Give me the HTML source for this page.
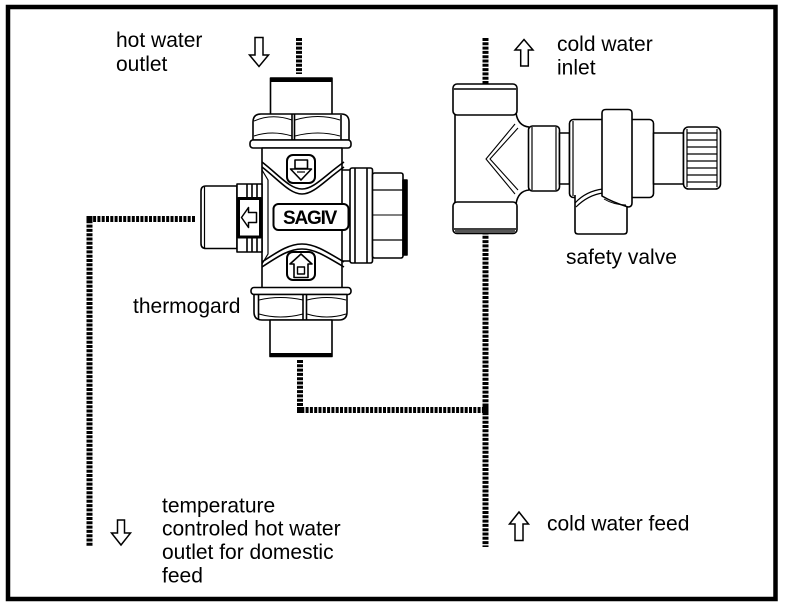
<!DOCTYPE html>
<html><head><meta charset="utf-8"><style>
html,body{margin:0;padding:0;background:#fff;}
svg{display:block;}
text{font-family:"Liberation Sans",Arial,sans-serif;font-size:21px;fill:#000;}
</style></head><body>
<svg width="785" height="608" viewBox="0 0 785 608" xmlns="http://www.w3.org/2000/svg">
<rect x="0" y="0" width="785" height="608" fill="#fff"/>
<!-- frame -->
<rect x="8" y="7" width="767.5" height="592" fill="none" stroke="#000" stroke-width="4.5"/>

<!-- dotted pipes -->
<g stroke="#000" stroke-width="6" fill="none" stroke-dasharray="3 1.3">
  <line x1="299" y1="38" x2="299" y2="74"/>
  <line x1="300" y1="360" x2="300" y2="410"/>
  <line x1="297" y1="410" x2="486" y2="410"/>
  <line x1="485.5" y1="38" x2="485.5" y2="547"/>
  <line x1="195" y1="219" x2="89.5" y2="219"/>
  <line x1="89.5" y1="216" x2="89.5" y2="547"/>
</g>
<rect x="86.5" y="216" width="6" height="6" fill="#000"/>
<rect x="297" y="407" width="6" height="6" fill="#000"/>
<rect x="482.5" y="406" width="6" height="8" fill="#000"/>

<!-- arrows -->
<g fill="#fff" stroke="#000" stroke-width="1.5" stroke-linejoin="miter">
  <path d="M255,37.5 H263 V55 H268.5 L259,66.5 L249.5,55 H255 Z"/>
  <path d="M524,39.5 L533,50 H528.3 V66 H520.7 V50 H515 Z"/>
  <path d="M117.5,520 H124.5 V533 H130.5 L121,545 L111.5,533 H117.5 Z"/>
  <path d="M519,512 L528.5,524 H523 V540.5 H515 V524 H509.5 Z"/>
</g>

<!-- THERMOGARD VALVE -->
<g stroke="#000" stroke-width="1.6" fill="#fff" stroke-linejoin="round">
  <!-- top cap -->
  <rect x="270.5" y="78" width="61.5" height="37"/>
  <rect x="271" y="77.5" width="60.5" height="4.5" fill="#000" stroke="none"/>
  <!-- upper hex nut -->
  <path d="M253,140 V122 Q253,114 261,114 H341 Q349,114 349,122 V140 Z"/>
  <line x1="292" y1="114" x2="292" y2="140"/>
  <line x1="294.5" y1="114" x2="294.5" y2="140"/>
  <line x1="341" y1="115" x2="341" y2="140"/>
  <path d="M254,121 Q272,113 292,120" fill="none" stroke-width="1"/>
  <path d="M295,120 Q318,113 340,120" fill="none" stroke-width="1"/>
  <path d="M254,136 Q272,130 292,136" fill="none" stroke-width="1"/>
  <path d="M295,136 Q318,130 340,136" fill="none" stroke-width="1"/>
  <!-- upper flange -->
  <rect x="250" y="140" width="101" height="8" rx="3"/>

  <!-- right connection -->
  <rect x="340" y="170" width="11" height="91"/>
  <rect x="350" y="168" width="22.5" height="95" rx="2"/>
  <line x1="355" y1="168" x2="355" y2="263"/>
  <line x1="367" y1="168" x2="367" y2="263"/>
  <rect x="372.5" y="173" width="30.5" height="85" rx="2"/>
  <line x1="373" y1="190" x2="403" y2="190" stroke-width="1.2"/>
  <line x1="373" y1="215" x2="403" y2="215" stroke-width="1"/>
  <line x1="373" y1="240" x2="403" y2="240" stroke-width="1.2"/>
  <rect x="403" y="180" width="4" height="75" fill="#000"/>

  <!-- body -->
  <rect x="262" y="148" width="80" height="140"/>
  <path d="M262,170 L268,180 V254 L262,264" fill="none" stroke-width="1.2"/>
  <!-- upper saddle -->
  <path d="M262,162 C280,176 290,189 302,189 C314,189 324,176 344,162" fill="none"/>
  <path d="M262,167 C280,181 290,194 302,194 C314,194 324,181 344,167" fill="none"/>
  <!-- lower saddle -->
  <path d="M262,262 C280,250 290,244 302,244 C314,244 324,250 344,262" fill="none"/>
  <path d="M262,267 C280,255 290,249 302,249 C314,249 324,255 344,267" fill="none"/>

  <!-- upper icon -->
  <rect x="287" y="155" width="28" height="28" rx="6" stroke-width="2"/>
  <rect x="295" y="160" width="12.5" height="8.5" stroke-width="1.6"/>
  <path d="M290.5,169 H311.5 L301,180 Z" stroke-width="1.6"/>
  <line x1="297" y1="172" x2="305" y2="172" stroke-width="1.2"/>
  <!-- lower icon -->
  <rect x="287" y="252" width="28" height="28" rx="6" stroke-width="2"/>
  <path d="M301,254 L312,264 H308 V277.5 H294 V264 H290 Z" stroke-width="1.6"/>
  <rect x="297.5" y="267" width="7" height="7" stroke-width="1.4"/>

  <!-- SAGIV plate -->
  <rect x="273.5" y="204" width="75" height="26" rx="5" stroke-width="2"/>

  <!-- left thermostat element -->
  <path d="M237,186 H206 Q201,186 201,191 V243.5 Q201,248.5 206,248.5 H237 Z"/>
  <line x1="204.5" y1="187" x2="204.5" y2="247.5" stroke-width="1.2"/>
  <rect x="237" y="184" width="25" height="68"/>
  <line x1="247" y1="184" x2="247" y2="197"/>
  <line x1="252" y1="184" x2="252" y2="197"/>
  <line x1="257" y1="184" x2="257" y2="197"/>
  <line x1="247" y1="238" x2="247" y2="252"/>
  <line x1="252" y1="238" x2="252" y2="252"/>
  <line x1="257" y1="238" x2="257" y2="252"/>
  <rect x="238.5" y="198.5" width="22" height="38.5" stroke-width="3"/>
  <path d="M241.5,217.5 L248.5,207.5 V212.5 H256.5 V222.5 H248.5 V227.5 Z" stroke-width="1.5"/>

  <!-- lower flange -->
  <rect x="251" y="287.5" width="100" height="7" rx="3"/>
  <!-- lower hex nut -->
  <path d="M254,294.5 V312 Q254,320 262,320 H339 Q347,320 347,312 V294.5 Z"/>
  <line x1="258.5" y1="295" x2="258.5" y2="319"/>
  <line x1="303" y1="295" x2="303" y2="320"/>
  <line x1="306.5" y1="295" x2="306.5" y2="320"/>
  <path d="M259,300 Q280,295 303,300" fill="none" stroke-width="1"/>
  <path d="M307,300 Q327,295 346,300" fill="none" stroke-width="1"/>
  <path d="M259,314 Q280,320 303,314" fill="none" stroke-width="1"/>
  <path d="M307,314 Q327,320 346,314" fill="none" stroke-width="1"/>
  <!-- lower cap -->
  <rect x="270" y="320" width="62" height="36.5"/>
  <rect x="270" y="353" width="62" height="4" fill="#000" stroke="none"/>
</g>
<text x="283" y="224" style="font-weight:bold;font-size:19px;letter-spacing:-1.2px">SAGIV</text>

<!-- SAFETY VALVE -->
<g stroke="#000" stroke-width="1.6" fill="#fff" stroke-linejoin="round">
  <!-- T body -->
  <path d="M455,113 H516 Q518,126 529,127 V190 Q518,191 516,204 H455 Z"/>
  <path d="M515,124 L486,159 L515,194" fill="none" stroke-width="1.1"/>
  <path d="M518,128 L490,159 L518,190" fill="none" stroke-width="1.1"/>
  <!-- top cap -->
  <rect x="453" y="84" width="64" height="31" rx="4"/>
  <line x1="454" y1="89" x2="516" y2="89" stroke-width="1.4"/>
  <!-- bottom cap -->
  <rect x="453" y="202" width="64" height="31.5" rx="4"/>
  <line x1="454" y1="229" x2="516" y2="229" stroke-width="1.4"/>
  <rect x="455" y="230" width="60" height="3" fill="#555" stroke="none"/>
  <!-- nut 1 -->
  <rect x="528.5" y="126" width="31" height="65" rx="4"/>
  <line x1="532" y1="127" x2="532" y2="190" stroke-width="1.2"/>
  <line x1="556" y1="127" x2="556" y2="190" stroke-width="1.2"/>
  <!-- neck -->
  <rect x="559.5" y="133" width="10" height="51"/>
  <!-- body 2 -->
  <rect x="569.5" y="119.5" width="84" height="78" rx="4"/>
  <line x1="573" y1="121" x2="573" y2="196" stroke-width="1.2"/>
  <!-- lower outlet -->
  <path d="M575,195 V231 Q575,234 578,234 H624 Q627,234 627,231 V195"/>
  <rect x="576" y="194" width="50" height="5" fill="#fff" stroke="none"/>
  <path d="M575,203 Q586,191 603,189" fill="none" stroke-width="1.2"/>
  <path d="M576,207 Q588,195 603,193" fill="none" stroke-width="1.2"/>
  <!-- ring -->
  <path d="M602,113 Q602,109.5 606,109.5 H628 Q632,109.5 632,113 V203 Q632,207 628,207 Q612,202 602,196 Z"/>
  <path d="M604,199 Q614,205 626,205" fill="none" stroke-width="1"/>
  <!-- right neck -->
  <rect x="653.5" y="133" width="30" height="51"/>
  <!-- knob -->
  <rect x="683.5" y="127" width="37" height="62" rx="5"/>
  <line x1="687" y1="129" x2="687" y2="187" stroke-width="1.2"/>
  <line x1="717" y1="129" x2="717" y2="187" stroke-width="1.2"/>
  <g stroke-width="1.2">
    <line x1="687" y1="133" x2="717" y2="133"/>
    <line x1="687" y1="140" x2="717" y2="140"/>
    <line x1="687" y1="147" x2="717" y2="147"/>
    <line x1="687" y1="154" x2="717" y2="154"/>
    <line x1="687" y1="161" x2="717" y2="161"/>
    <line x1="687" y1="168" x2="717" y2="168"/>
    <line x1="687" y1="175" x2="717" y2="175"/>
    <line x1="687" y1="182" x2="717" y2="182"/>
  </g>
</g>

<!-- labels -->
<text x="116" y="47">hot water</text>
<text x="116" y="71">outlet</text>
<text x="557" y="51">cold water</text>
<text x="557" y="74.5">inlet</text>
<text x="566" y="264">safety valve</text>
<text x="133" y="313">thermogard</text>
<text x="162" y="512.5">temperature</text>
<text x="162" y="535.5">controled hot water</text>
<text x="162" y="559">outlet for domestic</text>
<text x="162" y="582.5">feed</text>
<text x="547" y="530.5">cold water feed</text>
</svg>
</body></html>
